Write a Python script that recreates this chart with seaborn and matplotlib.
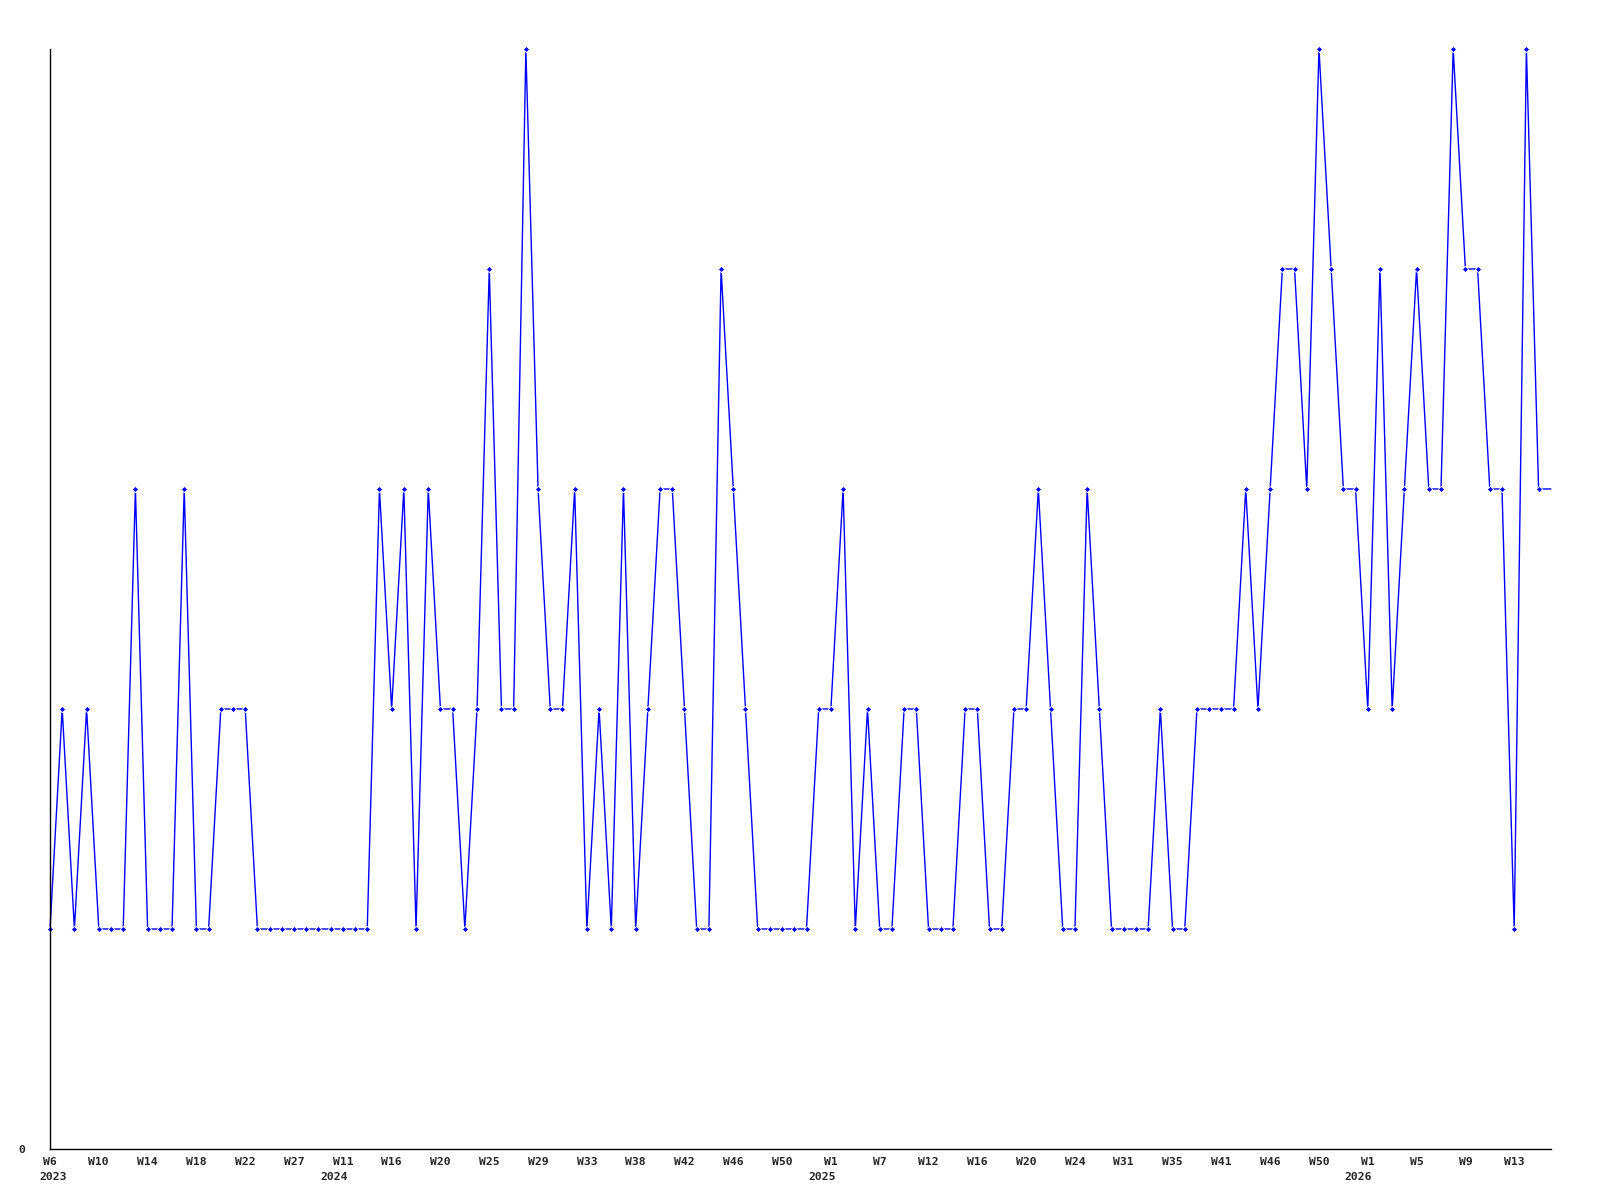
import numpy as np
import pandas as pd
import matplotlib.pyplot as plt
import matplotlib.transforms as mtransforms
import seaborn as sns

sns.set_style("white")
plt.rcParams['font.family'] = ['DejaVu Sans Mono']
plt.rcParams['font.weight'] = 'bold'

# weekly counts, one per point (last one has no marker, runs off the edge)
values = [1, 2, 1, 2, 1, 1, 1, 3, 1, 1, 1, 3, 1, 1, 2, 2,
          2, 1, 1, 1, 1, 1, 1, 1, 1, 1, 1, 3, 2, 3, 1, 3,
          2, 2, 1, 2, 4, 2, 2, 5, 3, 2, 2, 3, 1, 2, 1, 3,
          1, 2, 3, 3, 2, 1, 1, 4, 3, 2, 1, 1, 1, 1, 1, 2,
          2, 3, 1, 2, 1, 1, 2, 2, 1, 1, 1, 2, 2, 1, 1, 2,
          2, 3, 2, 1, 1, 3, 2, 1, 1, 1, 1, 2, 1, 1, 2, 2,
          2, 2, 3, 2, 3, 4, 4, 3, 5, 4, 3, 3, 2, 4, 2, 3,
          4, 3, 3, 5, 4, 4, 3, 3, 1, 5, 3, 3]

week_labels = ["W6", "W10", "W14", "W18", "W22", "W27", "W11", "W16", "W20",
               "W25", "W29", "W33", "W38", "W42", "W46", "W50", "W1", "W7",
               "W12", "W16", "W20", "W24", "W31", "W35", "W41", "W46", "W50",
               "W1", "W5", "W9", "W13"]
label_step = 4
year_labels = ["2023", "2024", "2025", "2026"]
year_at = [0, 6, 16, 27]  # which week label each year sits under

df = pd.DataFrame({"idx": np.arange(len(values)), "count": values})

fig = plt.figure(figsize=(16, 12), dpi=100)
ax = fig.add_axes([0.03125, 0.0425, 0.938, 0.9167])

sns.lineplot(data=df, x="idx", y="count", ax=ax, color="#0000ff", lw=1,
             marker="D", markersize=3.2, markeredgewidth=0.6,
             markevery=list(range(len(values) - 1)))
for ln in ax.lines:
    ln.set_clip_on(False)

ax.set_xlim(0, len(values) - 1)
ax.set_ylim(0, 5)

ticks = [i * label_step for i in range(len(week_labels))]
ax.set_xticks(ticks)
ax.set_xticklabels(week_labels, fontsize=8.2, fontweight='bold')
ax.set_yticks([0])
ax.set_yticklabels(["0"], fontsize=8.2, fontweight='bold')
ax.tick_params(axis='x', length=0, pad=6)
ax.tick_params(axis='y', length=0, pad=18)

# year row under the week labels, nudged a bit left like the original
trans = mtransforms.blended_transform_factory(ax.transData, ax.transAxes)
shift = mtransforms.ScaledTranslation(0, -0.23, fig.dpi_scale_trans)
for k, (yl, wi) in enumerate(zip(year_labels, year_at)):
    xpos = ticks[wi] - 0.75 if k > 0 else ticks[wi] + 0.25
    ax.text(xpos, 0, yl, transform=trans + shift,
            ha='center', va='top', fontsize=8.2, fontweight='bold')

ax.set_xlabel("")
ax.set_ylabel("")
for s in ["top", "right"]:
    ax.spines[s].set_visible(False)
for s in ["left", "bottom"]:
    ax.spines[s].set_color("black")
    ax.spines[s].set_linewidth(1)

fig.savefig("out.png", dpi=100)
